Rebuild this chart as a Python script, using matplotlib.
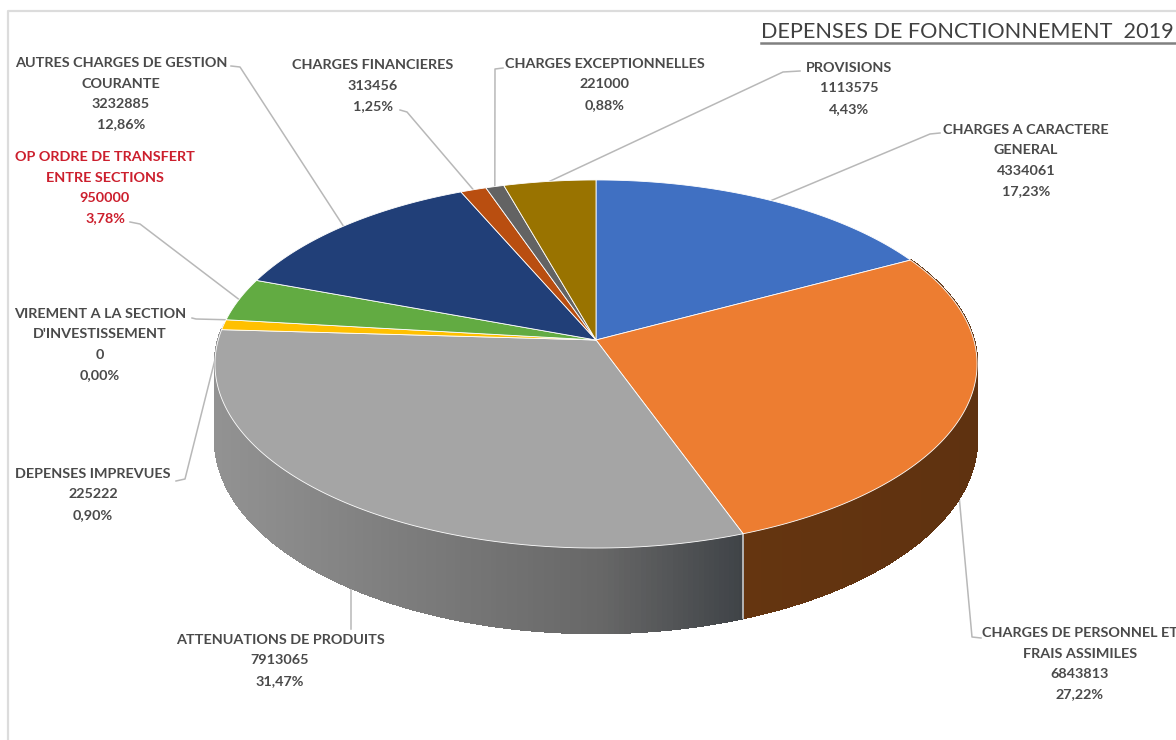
import numpy as np
import matplotlib.pyplot as plt
from matplotlib.collections import PolyCollection

names = [
    ['CHARGES A CARACTERE', 'GENERAL'],
    ['CHARGES DE PERSONNEL ET', 'FRAIS ASSIMILES'],
    ['ATTENUATIONS DE PRODUITS'],
    ['DEPENSES IMPREVUES'],
    ['VIREMENT A LA SECTION', "D'INVESTISSEMENT"],
    ['OP ORDRE DE TRANSFERT', 'ENTRE SECTIONS'],
    ['AUTRES CHARGES DE GESTION', 'COURANTE'],
    ['CHARGES FINANCIERES'],
    ['CHARGES EXCEPTIONNELLES'],
    ['PROVISIONS'],
]
values = [4334061, 6843813, 7913065, 225222, 0, 950000, 3232885, 313456, 221000, 1113575]
colors = ['#4070c2', '#ed7d31', '#a5a5a5', '#ffc000', '#5b9bd5',
          '#62ab42', '#213f78', '#b94e10', '#636363', '#997300']

# label block: centre x, y of first line, line pitch is the same everywhere
label_x = [1026, 1080, 280, 93, 100, 105, 121, 373, 605, 849]
label_y = [130, 633, 640, 474, 314, 157, 63, 65, 64, 68]
red_label = 5

# leader lines: label side point, elbow
leader_start = [(940, 133), (981, 638), (351, 629), (176, 481), (192, 318),
                (130, 222), (231, 66), (400, 110), (503, 68), (800, 71)]
leader_elbow = [(930, 134), (972, 637), (351, 628), (185, 479), (196, 319),
                (140, 224), (240, 67), (407, 112), (495, 69), (783, 72)]
leader_end = {1: (951, 408), 2: (351, 560)}

# pie projection in pixels
cx, cy = 596, 340
A, B, k = 377.8, 180.9, 0.1304
depth = 74


def project(theta, z=0):
    d = 1 + k * np.cos(theta)
    return cx + A * np.sin(theta) / d, cy - B * np.cos(theta) / d + z / d


def mix(c1, c2, t):
    c1 = np.array(plt.matplotlib.colors.to_rgb(c1))
    c2 = np.array(plt.matplotlib.colors.to_rgb(c2))
    return tuple(c1 + (c2 - c1) * t)


fig = plt.figure(figsize=(11.76, 7.4), dpi=100)
ax = fig.add_axes([0, 0, 1, 1])
ax.set_xlim(0, 1176)
ax.set_ylim(740, 0)
ax.axis('off')

plt.rcParams['font.family'] = ['Lato', 'DejaVu Sans']

# frame of the chart area
ax.plot([8, 8, 1176], [740, 10.5, 10.5], color='#dcdcdc', lw=1.6, zorder=1)

total = sum(values)
fractions = np.array(values) / total
edges = np.concatenate([[0], np.cumsum(fractions)]) * 2 * np.pi

# leader lines go under the pie
for i in range(len(values)):
    mid = (edges[i] + edges[i + 1]) / 2
    end = leader_end.get(i, project(mid))
    sx, sy = leader_start[i]
    ex, ey = leader_elbow[i]
    ax.plot([sx, ex, end[0]], [sy, ey, end[1]], color='#b8b8b8', lw=1.1, zorder=2)

# outer wall, only the two front slices can be seen
def wall(t0, t1, color_fn):
    t = np.linspace(t0, t1, 160)
    polys, cols = [], []
    for a, b in zip(t[:-1], t[1:]):
        xa, ya = project(a)
        xb, yb = project(b)
        xa2, ya2 = project(a, depth)
        xb2, yb2 = project(b, depth)
        polys.append([(xa, ya), (xb, yb), (xb2, yb2), (xa2, ya2)])
        cols.append(color_fn((xa + xb) / 2))
    ax.add_collection(PolyCollection(polys, facecolors=cols, edgecolors=cols, linewidths=1.0,
                                     antialiaseds=False, zorder=3))


def gray_side(x):
    if x < 600:
        return mix('#929292', '#676767', (x - 216) / 384)
    return mix('#676767', '#3f4347', (x - 600) / 142)


wall(edges[1], edges[2], lambda x: mix('#653510', '#5f3210', (x - 742) / 236))
wall(edges[2], edges[3], gray_side)

# seam between the two walls
x0, y0 = project(edges[2])
x1, y1 = project(edges[2], depth)
ax.plot([x0, x1], [y0, y1], color='#c8c8c8', lw=1.2, zorder=4)

# top faces
for i in range(len(values)):
    if values[i] == 0:
        continue
    t = np.linspace(edges[i], edges[i + 1], 120)
    px, py = project(t)
    ax.fill(np.r_[cx, px], np.r_[cy, py], facecolor=colors[i], edgecolor='white', lw=0.6,
            joinstyle='round', zorder=5)

# labels
for i in range(len(values)):
    lines = list(names[i])
    lines.append(str(values[i]))
    lines.append(f'{fractions[i] * 100:.2f}%'.replace('.', ','))
    col = '#cc1f2d' if i == red_label else '#4a4a4a'
    for j, line in enumerate(lines):
        ax.text(label_x[i], label_y[i] + j * 20.5, line, ha='center', va='center',
                fontsize=10.4, fontweight='bold', color=col, zorder=6)

ax.text(761, 31.5, 'DEPENSES DE FONCTIONNEMENT  2019', ha='left', va='center', fontsize=15.6,
        color='#404040', zorder=6)
ax.plot([761, 1176], [42.5, 42.5], color='#808080', lw=1.8, zorder=6)

fig.savefig('out.png', dpi=100)
